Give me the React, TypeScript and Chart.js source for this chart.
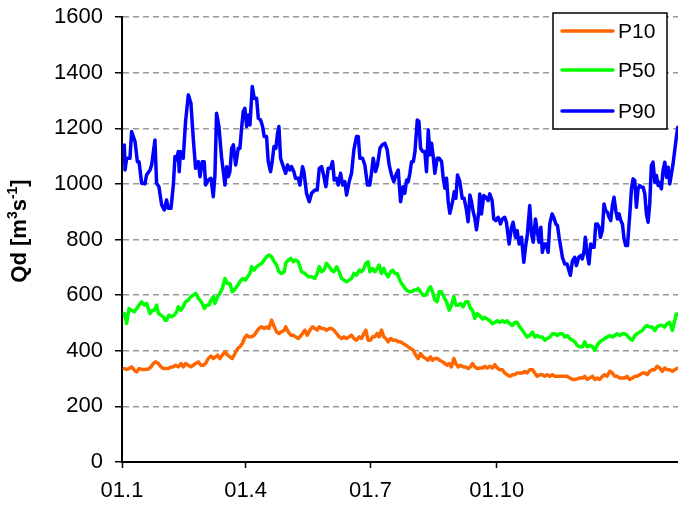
import React, { useEffect, useRef } from 'react';
import { Chart, registerables } from 'chart.js';

Chart.register(...registerables);

// x axis: day of the series, tick labels at month starts
const xTickDays = [0, 90, 181, 273];
const xTickLabels = ['01.1', '01.4', '01.7', '01.10'];
const xMaxDay = 405;
const yMin = 0;
const yMax = 1600;
const yStep = 200;

const seriesNames = ['P10', 'P50', 'P90'];
const seriesColors = ['#FF6600', '#00FF00', '#0000FF'];
const yAxisTitle = { main1: 'Qd [m', sup1: '3', main2: 's', sup2: '-1', main3: ']' };

// [day, Qd] pairs
const p10: [number, number][] = [
  [1.7, 336], [3.4, 333], [5.1, 336], [7.0, 342], [9.0, 330], [10.7, 324], [12.4, 336], [14.3, 333],
  [16.7, 333], [19.2, 334], [21.1, 342], [22.8, 354], [24.5, 360], [26.5, 354], [28.4, 342], [30.1, 336],
  [31.8, 336], [33.7, 336], [35.7, 342], [37.4, 342], [39.1, 348], [41.0, 342], [43.0, 354], [44.6, 342],
  [46.3, 354], [48.3, 348], [50.2, 342], [51.9, 348], [53.6, 354], [55.6, 360], [57.5, 348], [59.2, 348],
  [60.9, 354], [62.8, 372], [64.8, 381], [66.5, 372], [68.2, 378], [69.6, 384], [71.3, 372], [73.0, 384],
  [75.0, 396], [76.9, 384], [78.6, 378], [80.3, 372], [82.3, 390], [84.2, 408], [85.9, 414], [87.6, 426],
  [89.1, 444], [90.8, 456], [92.5, 450], [94.4, 450], [96.3, 456], [98.0, 468], [99.7, 480], [101.7, 486],
  [103.6, 480], [105.3, 486], [107.0, 480], [109.0, 510], [110.9, 486], [112.6, 468], [114.3, 462], [116.2, 468],
  [118.2, 474], [119.2, 486], [121.1, 468], [123.0, 456], [124.7, 456], [126.4, 450], [128.4, 444],
  [129.6, 450], [131.5, 462], [133.2, 474], [134.9, 456], [136.9, 474], [138.8, 486], [140.5, 480], [142.2, 474],
  [143.7, 486], [145.4, 480], [147.1, 480], [149.0, 474], [151.0, 480], [152.6, 480], [154.3, 474], [156.3, 462],
  [158.2, 450], [159.9, 444], [161.6, 450], [163.6, 444], [165.5, 450], [167.2, 456], [168.9, 444], [170.8, 438],
  [172.8, 450], [174.5, 444], [176.2, 462], [177.6, 474], [179.3, 438], [181.0, 438], [182.5, 450], [184.2, 450],
  [185.9, 462], [187.3, 450], [189.0, 474], [190.7, 450], [192.2, 444], [193.9, 432], [195.6, 444], [197.5, 438],
  [199.5, 438], [201.2, 432], [202.9, 432], [204.8, 426], [206.8, 420], [208.5, 414], [210.2, 408], [212.1, 402],
  [214.0, 384], [215.7, 372], [217.4, 390], [219.4, 378], [221.3, 372], [223.0, 366], [224.7, 378], [226.2, 366],
  [227.9, 372], [229.6, 372], [231.5, 366], [233.5, 360], [235.2, 354], [236.9, 348], [238.3, 354], [240.0, 342],
  [241.7, 372], [243.2, 354], [244.9, 342], [246.6, 348], [248.5, 342], [250.4, 342], [252.1, 336], [253.8, 342],
  [255.3, 354], [257.0, 342], [258.7, 336],
  [260.6, 338], [262.6, 338], [264.3, 344], [266.0, 338], [267.9, 344], [269.9, 338], [271.6, 350], [273.3, 338],
  [275.2, 332], [277.1, 332], [278.8, 320], [280.5, 314], [282.5, 308], [284.4, 314], [286.1, 314], [287.8, 320],
  [289.8, 320], [291.7, 320], [293.4, 326], [295.1, 320], [297.0, 332], [299.0, 332], [300.7, 320], [302.4, 308],
  [304.3, 314], [306.2, 314], [307.9, 308], [309.7, 314], [311.6, 308], [313.5, 314], [315.2, 308], [316.9, 308],
  [318.9, 308], [320.8, 308], [322.5, 308], [324.2, 308], [326.2, 302], [328.1, 297], [329.8, 297], [331.5, 299],
  [333.4, 302], [335.4, 302], [337.1, 308], [338.8, 297], [340.7, 302], [342.7, 308], [344.4, 297], [346.1, 302],
  [348.0, 297], [349.9, 308], [351.6, 314], [353.3, 308], [355.3, 326], [357.2, 320], [358.9, 308], [360.6, 308],
  [362.5, 302], [364.5, 302], [366.2, 302], [367.9, 308], [369.8, 297], [371.8, 302], [373.5, 308], [375.2, 308],
  [377.1, 314], [379.1, 320], [380.8, 320], [382.5, 314], [384.4, 326], [386.3, 332], [388.0, 332], [389.7, 344],
  [391.7, 338], [393.6, 326], [395.3, 338], [397.0, 332], [398.9, 332], [400.9, 326], [402.6, 332], [404.8, 338],
];

const p50: [number, number][] = [
  [1.7, 534], [3.4, 498], [5.1, 552], [7.0, 546], [9.0, 540], [10.7, 552], [12.4, 564], [14.3, 576],
  [16.3, 564], [18.0, 570], [19.2, 552], [20.4, 534], [22.1, 546], [23.5, 546], [25.2, 564], [26.5, 534],
  [28.4, 528], [30.1, 522], [31.3, 510], [32.5, 510], [34.2, 528], [36.2, 522], [38.1, 528], [39.8, 540],
  [41.0, 558], [43.0, 546], [44.6, 558], [46.3, 576], [48.3, 582], [50.0, 594], [51.9, 600], [53.6, 606],
  [55.6, 588], [56.8, 582], [58.5, 570], [59.9, 552], [61.6, 564], [63.3, 564], [64.8, 582], [66.5, 594],
  [67.7, 570], [69.6, 594], [71.3, 606], [73.0, 624], [75.0, 660], [76.7, 642], [78.6, 642], [80.3, 612],
  [81.8, 618], [83.5, 630], [85.2, 642], [86.6, 654], [88.3, 660], [90.0, 654], [91.5, 666], [93.2, 678],
  [94.4, 702], [96.3, 690], [98.0, 702], [99.7, 708], [101.7, 714], [103.6, 726], [105.3, 738], [107.0, 744],
  [109.0, 738], [110.9, 720], [112.6, 708], [114.3, 684], [116.2, 678], [118.2, 684], [119.2, 714], [121.1, 726],
  [123.0, 732], [124.7, 720], [126.4, 726], [128.4, 720],
  [129.6, 702], [130.8, 684], [133.2, 678], [135.7, 666], [138.1, 666], [140.5, 660], [142.2, 678], [143.7, 702],
  [145.4, 684], [147.1, 690], [149.0, 714], [151.0, 702], [152.6, 690], [154.3, 684], [156.3, 702], [158.2, 684],
  [159.9, 660], [161.6, 654], [163.6, 648], [165.5, 654], [167.2, 660], [168.9, 678], [170.8, 672], [172.8, 690],
  [174.5, 684], [176.2, 696], [177.6, 714], [179.3, 720], [180.5, 684], [182.5, 696], [184.2, 684], [185.9, 696],
  [187.3, 708], [189.0, 678], [190.7, 696], [192.2, 678], [193.9, 666], [195.6, 684], [197.1, 690], [198.8, 678],
  [200.5, 678], [201.9, 660], [203.6, 642], [205.3, 630], [207.3, 618], [209.2, 612], [210.9, 612], [212.6, 618],
  [214.5, 618], [215.7, 624], [217.4, 612], [219.4, 600], [221.3, 600], [223.0, 618], [224.7, 630], [226.2, 612],
  [227.9, 582], [229.6, 576], [231.0, 612], [232.7, 612], [234.4, 594], [236.4, 576], [238.3, 546], [240.0, 564],
  [241.7, 594], [243.2, 564], [244.9, 564], [246.6, 570], [248.5, 558], [250.4, 576], [252.1, 576], [253.8, 552],
  [255.3, 546], [257.0, 516], [258.7, 534],
  [260.6, 526], [262.6, 514], [264.3, 520], [266.0, 514], [267.9, 508], [269.9, 497], [271.6, 502], [273.3, 508],
  [275.2, 502], [277.1, 508], [278.8, 502], [280.5, 508], [282.5, 497], [284.4, 491], [286.1, 502], [287.8, 502],
  [289.8, 485], [291.7, 473], [293.4, 461], [295.1, 449], [297.0, 455], [299.0, 467], [300.7, 449], [302.4, 455],
  [304.3, 449], [306.2, 449], [307.9, 438], [309.7, 444], [311.6, 449], [313.5, 461], [315.2, 461], [316.9, 455],
  [318.9, 461], [320.8, 461], [322.5, 449], [324.2, 455], [326.2, 444], [328.1, 438], [329.8, 432], [331.5, 420],
  [333.4, 414], [335.4, 414], [337.1, 432], [338.8, 414], [340.7, 420], [342.7, 414], [344.4, 402], [346.1, 420],
  [348.0, 432], [349.9, 438], [351.6, 444], [353.3, 449], [355.3, 455], [357.2, 449], [358.9, 455], [360.6, 461],
  [362.5, 455], [364.5, 461], [366.2, 461], [367.9, 455], [369.8, 444], [371.8, 438], [373.5, 455], [375.2, 461],
  [377.1, 467], [379.1, 473], [380.8, 485], [382.5, 491], [384.4, 485], [386.3, 485], [388.0, 473], [389.7, 485],
  [391.7, 491], [393.6, 491], [395.3, 485], [397.0, 497], [398.9, 502], [400.9, 473], [402.6, 508], [403.8, 532],
  [404.8, 532],
];

const p90: [number, number][] = [
  [1.7, 1140], [2.2, 1050], [3.4, 1092], [5.8, 1092], [7.0, 1188], [9.5, 1152], [11.2, 1080], [12.4, 1080],
  [14.3, 1002], [16.7, 1000], [17.9, 1032], [20.4, 1050], [21.6, 1068], [24.0, 1158], [25.2, 1002], [26.9, 990],
  [28.9, 924], [30.8, 906], [32.5, 942], [33.7, 912], [35.7, 912], [37.4, 996], [38.6, 1098], [39.8, 1086],
  [41.0, 1116], [41.7, 1044], [42.5, 1116], [44.6, 1092], [46.3, 1224], [48.3, 1320], [50.2, 1290], [51.9, 1164],
  [53.6, 1056], [55.6, 1080], [56.8, 1026], [58.5, 1080], [59.9, 1080], [60.9, 996], [62.8, 1014], [64.8, 1020],
  [66.5, 954], [67.7, 1032], [68.9, 1254], [70.6, 1206], [72.6, 1092], [73.8, 1044], [75.0, 996], [76.2, 1062],
  [77.4, 1026], [78.6, 1044], [79.9, 1128], [81.1, 1140], [82.8, 1068], [84.7, 1128], [85.9, 1128], [87.1, 1200],
  [88.3, 1260], [89.5, 1272], [90.8, 1206], [92.0, 1248], [93.2, 1212], [94.9, 1350], [96.3, 1308], [98.0, 1308],
  [99.3, 1236], [101.0, 1230], [102.4, 1206], [103.6, 1170], [105.3, 1170], [106.5, 1080], [108.2, 1044], [109.4, 1080],
  [110.7, 1134], [112.1, 1128], [113.3, 1182], [114.3, 1206], [115.5, 1092], [117.5, 1062], [119.2, 1038], [120.6, 1068],
  [122.3, 1050], [123.5, 1062], [125.2, 1044], [126.4, 1020], [128.4, 1020],
  [129.6, 996], [131.5, 1062], [132.5, 1044], [134.4, 966], [136.4, 936], [138.1, 966], [140.5, 978], [142.2, 978],
  [143.7, 1056], [145.4, 1062], [147.1, 1026], [148.5, 990], [150.2, 1056], [151.9, 1056], [153.4, 1080], [154.6, 1014],
  [156.3, 1020], [157.5, 996], [159.2, 1038], [160.7, 996], [162.3, 1008], [163.6, 960], [165.5, 1008], [167.2, 1038],
  [168.9, 1122], [170.8, 1170], [172.1, 1170], [173.3, 1092], [175.2, 1092], [176.9, 1068], [178.8, 996], [180.5, 996],
  [181.7, 1038], [183.0, 1092], [184.7, 1044], [186.1, 1068], [187.9, 1128], [189.5, 1140], [191.5, 1146], [193.2, 1122],
  [194.6, 1068], [196.3, 1032], [198.0, 1008], [199.5, 1032], [201.2, 1050], [202.9, 936], [204.8, 990], [206.0, 966],
  [207.3, 1014], [208.5, 1008], [209.7, 1038], [210.9, 1080], [212.2, 1080], [213.4, 1116], [215.1, 1230], [216.3, 1224],
  [217.5, 1128], [219.0, 1116], [220.6, 1116], [221.8, 1044], [223.1, 1194], [224.3, 1104], [225.5, 1146], [226.7, 1098],
  [227.9, 1038], [229.6, 1092], [231.1, 1092], [232.8, 1080], [234.0, 1020], [235.2, 984], [236.4, 1020], [237.6, 936],
  [238.8, 894], [240.8, 936], [242.0, 972], [243.2, 948], [244.4, 1032], [246.1, 1008], [247.8, 948], [249.2, 948],
  [250.9, 906], [252.1, 864], [253.4, 960], [254.6, 936], [255.8, 900], [257.0, 876], [258.2, 835], [259.9, 900],
  [260.6, 964], [261.8, 892], [263.5, 958], [265.0, 952], [266.7, 940], [267.9, 964], [269.6, 940], [270.8, 874],
  [272.3, 868], [274.0, 880], [275.7, 856], [277.1, 874], [278.8, 880], [280.0, 862], [282.0, 784], [283.7, 844],
  [284.9, 862], [286.6, 808], [287.8, 832], [289.3, 784], [291.0, 808], [292.7, 718], [293.9, 772], [295.3, 820],
  [297.0, 922], [298.3, 820], [299.5, 790], [301.2, 874], [302.4, 832], [303.8, 790], [305.1, 844], [306.2, 754],
  [307.5, 784], [308.7, 784], [310.4, 754], [311.6, 856], [313.3, 892], [314.5, 880], [316.0, 856], [317.2, 850],
  [318.4, 808], [319.6, 772], [320.8, 736], [322.5, 712], [324.2, 712], [325.6, 688], [326.6, 671], [328.1, 724],
  [329.8, 736], [331.0, 706], [332.7, 736], [334.1, 742], [335.3, 730], [336.6, 760], [337.5, 808], [338.8, 748],
  [340.2, 712], [341.4, 784], [342.6, 772], [343.9, 772], [345.1, 856], [346.3, 856], [347.5, 844], [348.5, 808],
  [349.9, 832], [351.1, 928], [352.3, 904], [353.6, 898], [354.8, 880], [356.0, 868], [357.2, 922], [358.4, 952],
  [359.7, 904], [360.9, 874], [362.1, 892], [363.3, 868], [364.5, 856], [365.7, 802], [366.9, 778], [368.2, 778],
  [369.9, 892], [371.1, 982], [372.3, 1018], [373.5, 1012], [374.7, 916], [375.9, 982], [377.1, 994], [378.4, 988],
  [379.6, 988], [380.8, 964], [382.0, 892], [383.2, 862], [384.4, 928], [385.6, 1066], [386.8, 1078], [388.1, 1006],
  [389.3, 1030], [390.5, 994], [391.7, 1006], [392.9, 982], [394.1, 1048], [395.4, 1078], [396.6, 1024], [397.8, 1060],
  [399.0, 1000], [400.2, 1036], [401.4, 1072], [402.6, 1120], [403.8, 1168], [404.8, 1204],
];

const seriesData = [p10, p50, p90];
const FONT = '"Liberation Sans", Arial, sans-serif';

const legendBoxPlugin = {
  id: 'legendBox',
  afterDraw(chart: any) {
    const { ctx, chartArea } = chart;
    const left = chartArea.left + 431;
    const top = chartArea.top - 4;
    const w = 114;
    const h = 116;
    ctx.save();
    ctx.fillStyle = '#ffffff';
    ctx.fillRect(left, top, w, h);
    ctx.strokeStyle = '#000000';
    ctx.lineWidth = 1.5;
    ctx.strokeRect(left, top, w, h);
    const rows = [18, 57, 98];
    ctx.font = `21px ${FONT}`;
    ctx.textBaseline = 'middle';
    ctx.textAlign = 'left';
    chart.data.datasets.forEach((ds: any, i: number) => {
      const y = top + rows[i];
      ctx.strokeStyle = ds.borderColor;
      ctx.lineWidth = 3.5;
      ctx.lineCap = 'round';
      ctx.beginPath();
      ctx.moveTo(left + 9, y);
      ctx.lineTo(left + 60, y);
      ctx.stroke();
      ctx.fillStyle = '#000000';
      ctx.fillText(ds.label, left + 65, y + 1);
    });
    ctx.restore();
  },
};

const yTitlePlugin = {
  id: 'yTitle',
  afterDraw(chart: any) {
    const { ctx } = chart;
    const cy = 231;
    const baseX = 25.5;
    const big = `bold 22px ${FONT}`;
    const small = `bold 14px ${FONT}`;
    const parts = [
      { t: yAxisTitle.main1, f: big, dy: 0 },
      { t: yAxisTitle.sup1, f: small, dy: -9 },
      { t: yAxisTitle.main2, f: big, dy: 0 },
      { t: yAxisTitle.sup2, f: small, dy: -9 },
      { t: yAxisTitle.main3, f: big, dy: 0 },
    ];
    ctx.save();
    let total = 0;
    parts.forEach((p) => {
      ctx.font = p.f;
      total += ctx.measureText(p.t).width;
    });
    ctx.translate(baseX, cy);
    ctx.rotate(-Math.PI / 2);
    ctx.fillStyle = '#000000';
    ctx.textBaseline = 'alphabetic';
    ctx.textAlign = 'left';
    let x = -total / 2;
    parts.forEach((p) => {
      ctx.font = p.f;
      ctx.fillText(p.t, x, p.dy);
      x += ctx.measureText(p.t).width;
    });
    ctx.restore();
  },
};

export default function App() {
  const ref = useRef<HTMLCanvasElement>(null);
  useEffect(() => {
    document.body.style.margin = '0';
    const canvas = ref.current;
    if (!canvas) return;
    const chart = new Chart(canvas, {
      type: 'line',
      data: {
        datasets: seriesNames.map((name, i) => ({
          label: name,
          data: seriesData[i].map(([d, v]) => ({ x: d, y: v })),
          borderColor: seriesColors[i],
          backgroundColor: seriesColors[i],
          borderWidth: 3.5,
          borderJoinStyle: 'round',
          borderCapStyle: 'round',
          pointRadius: 0,
          tension: 0,
          fill: false,
        })),
      },
      options: {
        animation: false,
        responsive: false,
        devicePixelRatio: 1,
        layout: { padding: { top: 17, right: 0, bottom: 0, left: 0 } },
        plugins: {
          legend: { display: false },
          tooltip: { enabled: false },
          title: { display: false },
        },
        scales: {
          x: {
            type: 'linear',
            min: 0,
            max: xMaxDay,
            afterBuildTicks: (scale: any) => {
              scale.ticks = xTickDays.map((v) => ({ value: v }));
            },
            afterFit: (scale: any) => {
              scale.height = 44;
              scale.paddingLeft = 0;
              scale.paddingRight = 0;
            },
            ticks: {
              autoSkip: false,
              maxRotation: 0,
              color: '#000000',
              font: { family: FONT, size: 22 },
              padding: 10,
              callback: (_v: any, i: number) => xTickLabels[i],
            },
            grid: {
              drawOnChartArea: false,
              drawTicks: true,
              tickLength: 6,
              tickColor: '#000000',
              tickWidth: 1.5,
            },
            border: { display: true, color: '#000000', width: 2 },
          },
          y: {
            type: 'linear',
            min: yMin,
            max: yMax,
            afterFit: (scale: any) => {
              scale.width = 122;
              scale.paddingTop = 0;
              scale.paddingBottom = 0;
            },
            ticks: {
              stepSize: yStep,
              color: '#000000',
              font: { family: FONT, size: 22 },
              padding: 12,
              callback: (v: any) => String(v),
            },
            grid: {
              color: (c: any) => (c.tick && c.tick.value === 0 ? 'rgba(0,0,0,0)' : '#999999'),
              lineWidth: 1.5,
              tickLength: 7,
              tickColor: '#000000',
              tickWidth: 1.5,
            },
            border: { display: true, color: '#000000', width: 2, dash: [6, 4] },
          },
        },
      },
      plugins: [legendBoxPlugin, yTitlePlugin],
    } as any);
    return () => chart.destroy();
  }, []);
  return <canvas ref={ref} width={678} height={506} style={{ display: 'block' }} />;
}
